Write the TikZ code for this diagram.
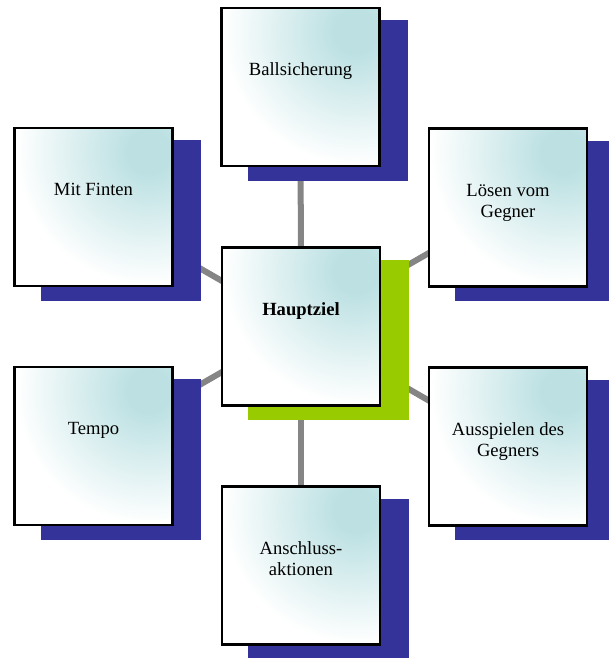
\documentclass[tikz,border=0pt]{standalone}
\usepackage{fontspec}
\setmainfont{Liberation Serif}
\usetikzlibrary{shadows,backgrounds}

\definecolor{glow}{HTML}{BDE1E3}
\definecolor{shadowblue}{HTML}{333399}
\definecolor{shadowgreen}{HTML}{99CC00}
\definecolor{linkgray}{HTML}{858585}

% soft teal glow spreading from the upper right corner of every card
\pgfdeclareradialshading{boxglow}{\pgfpoint{0bp}{0bp}}{%
  color(0bp)=(glow); color(22bp)=(glow); color(132bp)=(white); color(165bp)=(white)}

\tikzset{
  card/.style={draw=black, line width=2.2pt, fill=white,
    minimum width=158pt, minimum height=158pt, inner sep=0pt,
    path picture={\pgftext[at={\pgfpointadd
        {\pgfpointanchor{path picture bounding box}{north east}}
        {\pgfpoint{-24pt}{-24pt}}}]{\pgfuseshading{boxglow}}},
    general shadow={fill=#1, draw=#1, line width=2.2pt,
      shadow xshift=27.5pt, shadow yshift=-13.5pt}},
  card/.default=shadowblue,
  cardtext/.style={anchor=base, align=center, inner sep=0pt,
    font=\fontsize{18.6}{21.5}\selectfont},
  link/.style={draw=linkgray, line width=6pt}
}

\begin{document}
\begin{tikzpicture}[x=1pt, y=-1pt]
  \useasboundingbox (0,0) rectangle (608,658);

  % cards
  \node[card=shadowgreen] (hz) at (301,326.5) {};
  \node[card] (bs) at (300.5,87) {};
  \node[card] (an) at (301,565.5) {};
  \node[card] (mf) at (93.5,207) {};
  \node[card] (tp) at (93.5,446) {};
  \node[card] (lg) at (508,207.5) {};
  \node[card] (ag) at (508,446.5) {};

  % labels (base = baseline of the last line)
  \node[cardtext] (hzt) at ([yshift=11.5pt]hz.center) {\textbf{Hauptziel}};
  \node[cardtext] (bst) at ([yshift=11.5pt]bs.center) {Ballsicherung};
  \node[cardtext] (ant) at ([yshift=-10pt]an.center) {Anschluss-\\aktionen};
  \node[cardtext] (mft) at ([yshift=11.5pt]mf.center) {Mit Finten};
  \node[cardtext] (tpt) at ([yshift=11.5pt]tp.center) {Tempo};
  \node[cardtext] (lgt) at ([yshift=-10pt]lg.center) {Lösen vom\\Gegner};
  \node[cardtext] (agt) at ([yshift=-10pt]ag.center) {Ausspielen des\\Gegners};

  % spokes from the main goal, behind everything
  \begin{scope}[on background layer]
    \foreach \n in {bs,an,mf,tp,lg,ag}
      \draw[link] (hz.center) -- (\n.center);
  \end{scope}
\end{tikzpicture}
\end{document}
